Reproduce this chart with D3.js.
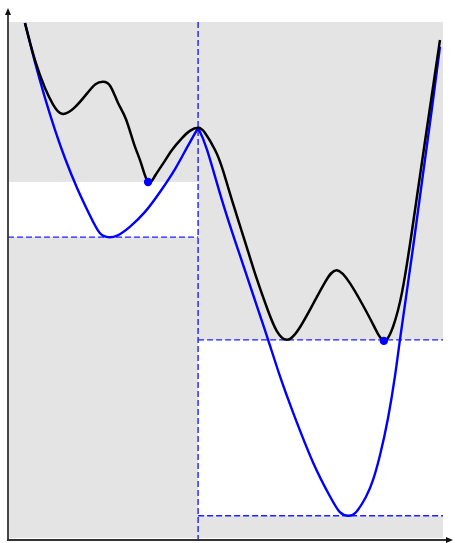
<!DOCTYPE html>
<html><head><meta charset="utf-8">
<script src="https://cdn.jsdelivr.net/npm/d3@7"></script>
<style>html,body{margin:0;padding:0;background:#fff;}svg{display:block;}</style>
</head><body>
<svg id="chart" width="455" height="543"></svg>
<script>
// Black curve (original function)
const blackX = [0.39,0.62,0.85,1.03,1.24,1.54,1.84,2.02,2.18,2.35,2.53,2.71,2.90,3.06,3.22,3.38,3.56,3.77,4.00,4.18,4.37,4.53,4.76,4.94,5.17,5.45,5.72,5.98,6.18,6.41,6.67,6.99,7.29,7.56,7.86,8.14,8.41,8.64,8.85,9.06,9.29,9.59,9.93];
const blackY = [9.98,9.26,8.72,8.41,8.22,8.35,8.64,8.80,8.84,8.76,8.43,8.12,7.63,7.26,6.90,7.02,7.25,7.52,7.75,7.89,7.95,7.85,7.52,7.13,6.49,5.74,5.02,4.40,4.01,3.84,4.03,4.50,4.96,5.19,4.94,4.54,4.11,3.82,4.09,4.77,5.97,7.71,9.65];
// Blue curve, left piece (x <= split)
const blueLeftX = [0.39,0.62,0.85,1.08,1.31,1.59,1.89,2.11,2.30,2.51,2.80,3.15,3.49,3.84,4.11,4.37];
const blueLeftY = [9.98,9.22,8.53,7.91,7.36,6.78,6.24,5.91,5.83,5.86,6.03,6.32,6.70,7.15,7.56,7.95];
// Blue curve, right piece (x >= split)
const blueRightX = [4.37,4.58,4.94,5.33,5.72,5.98,6.25,6.55,7.01,7.40,7.63,7.82,8.00,8.23,8.39,8.55,8.74,8.90,9.01,9.31,9.54,9.75,9.93];
const blueRightY = [7.95,7.51,6.49,5.48,4.50,3.84,3.14,2.44,1.47,0.81,0.50,0.43,0.50,0.80,1.12,1.60,2.34,3.16,3.84,5.62,7.05,8.35,9.52];
// Split point and levels
const splitX = [4.37];
const levelLeft = [5.83, 6.90];   // blue min, black local min (left piece)
const levelRight = [0.43, 3.84];  // blue min, black local min (right piece)
const dotsX = [3.22, 8.64];
const dotsY = [6.90, 3.82];

const svg = d3.select("#chart");
const x = d3.scaleLinear().domain([0,10]).range([8,443]);
const y = d3.scaleLinear().domain([0,10]).range([538,22]);

// gray background
svg.append("rect").attr("x",x(0)).attr("y",y(10)).attr("width",x(10)-x(0)).attr("height",y(0)-y(10)).attr("fill","#e4e4e4");
// white bands
svg.append("rect").attr("x",x(0)).attr("y",y(levelLeft[1])).attr("width",x(splitX[0])-x(0)).attr("height",y(levelLeft[0])-y(levelLeft[1])).attr("fill","#fff");
svg.append("rect").attr("x",x(splitX[0])).attr("y",y(levelRight[1])).attr("width",x(10)-x(splitX[0])).attr("height",y(levelRight[0])-y(levelRight[1])).attr("fill","#fff");

// dashed lines
function dl(x1,y1,x2,y2){
  svg.append("line").attr("x1",x1).attr("y1",y1).attr("x2",x2).attr("y2",y2)
    .attr("stroke","#1f1fff").attr("stroke-width",1.4).attr("stroke-dasharray","6,3");
}
dl(x(splitX[0]),y(10),x(splitX[0]),541);
dl(x(0),y(levelLeft[0]),x(splitX[0]),y(levelLeft[0]));
dl(x(splitX[0]),y(levelRight[1]),x(10),y(levelRight[1]));
dl(x(splitX[0]),y(levelRight[0]),x(10),y(levelRight[0]));

const line = d3.line().x(d=>x(d[0])).y(d=>y(d[1])).curve(d3.curveNatural);
const zip = (a,b)=>a.map((v,i)=>[v,b[i]]);
svg.append("path").attr("d",line(zip(blueLeftX,blueLeftY))).attr("fill","none").attr("stroke","#0000ff").attr("stroke-width",2.4);
svg.append("path").attr("d",line(zip(blueRightX,blueRightY))).attr("fill","none").attr("stroke","#0000ff").attr("stroke-width",2.4);
svg.append("path").attr("d",line(zip(blackX,blackY))).attr("fill","none").attr("stroke","#000").attr("stroke-width",2.5);

svg.selectAll("circle.dot").data(zip(dotsX,dotsY)).enter().append("circle")
  .attr("cx",d=>x(d[0])).attr("cy",d=>y(d[1])).attr("r",4.2).attr("fill","#0000ff");

// axes
svg.append("line").attr("x1",8).attr("y1",540).attr("x2",8).attr("y2",12).attr("stroke","#333").attr("stroke-width",1.8);
svg.append("line").attr("x1",7).attr("y1",540).attr("x2",449).attr("y2",540).attr("stroke","#333").attr("stroke-width",1.8);
svg.append("path").attr("d","M8,8 L5,15 L11,15 Z").attr("fill","#111");
svg.append("path").attr("d","M453,540 L446,537 L446,543 Z").attr("fill","#111");
</script>
</body></html>
